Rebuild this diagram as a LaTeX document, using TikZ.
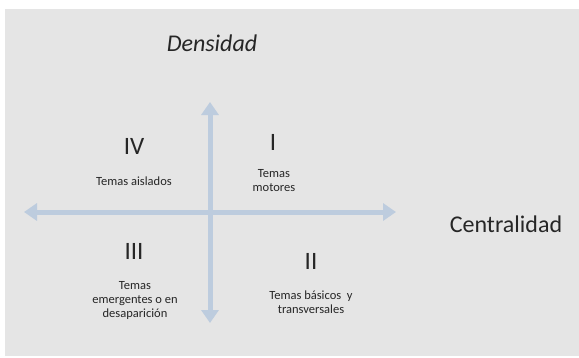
\documentclass[tikz,border=0pt]{standalone}
\usepackage{fontspec}
\setmainfont{Carlito}
\usetikzlibrary{arrows.meta}
\definecolor{panelgray}{RGB}{229,229,229}
\definecolor{axisblue}{RGB}{189,204,222}
\definecolor{labelgray}{RGB}{38,38,38}

\begin{document}
\begin{tikzpicture}[
  x=1pt, y=-1pt,
  every node/.style={text=labelgray, inner sep=0pt, align=center},
  numeral/.style={font=\fontsize{25}{30}\selectfont},
  axislabel/.style={font=\fontsize{24}{28}\selectfont},
  topic/.style={font=\fontsize{12.5}{14}\selectfont},
  axis/.style={draw=axisblue, line width=5pt,
    {Triangle[length=13pt,width=17pt]}-{Triangle[length=13pt,width=17pt]}}
]
\useasboundingbox (0,0) rectangle (579,357);
\fill[white] (0,0) rectangle (579,357);
\fill[panelgray] (5,9) rectangle (579,356);

% axes
\coordinate (top) at (210,102);
\coordinate (bottom) at (210,323);
\coordinate (left) at (24,212);
\coordinate (right) at (396,212);
\draw[axis] (left) -- (right);
\draw[axis] (bottom) -- (top);

\node[axislabel, font=\fontsize{24}{28}\selectfont\itshape] (dens) at (212,43) {Densidad};
\node[axislabel] (cent) at (506,224) {Centralidad};

% quadrants
\node[numeral] (qIV) at (134,146) {IV};
\node[numeral] (qI) at (273,142) {I};
\node[numeral] (qIII) at (134,251) {III};
\node[numeral] (qII) at (311,261) {II};

\node[topic] (aislados) at (134,181) {Temas aislados};
\node[topic] (motores) at (274,181) {Temas\\motores};
\node[topic] (emergentes) at (135,300) {Temas\\emergentes o en\\desaparición};
\node[topic] (basicos) at (311,302) {Temas básicos\ \ y\\transversales};

\end{tikzpicture}
\end{document}
